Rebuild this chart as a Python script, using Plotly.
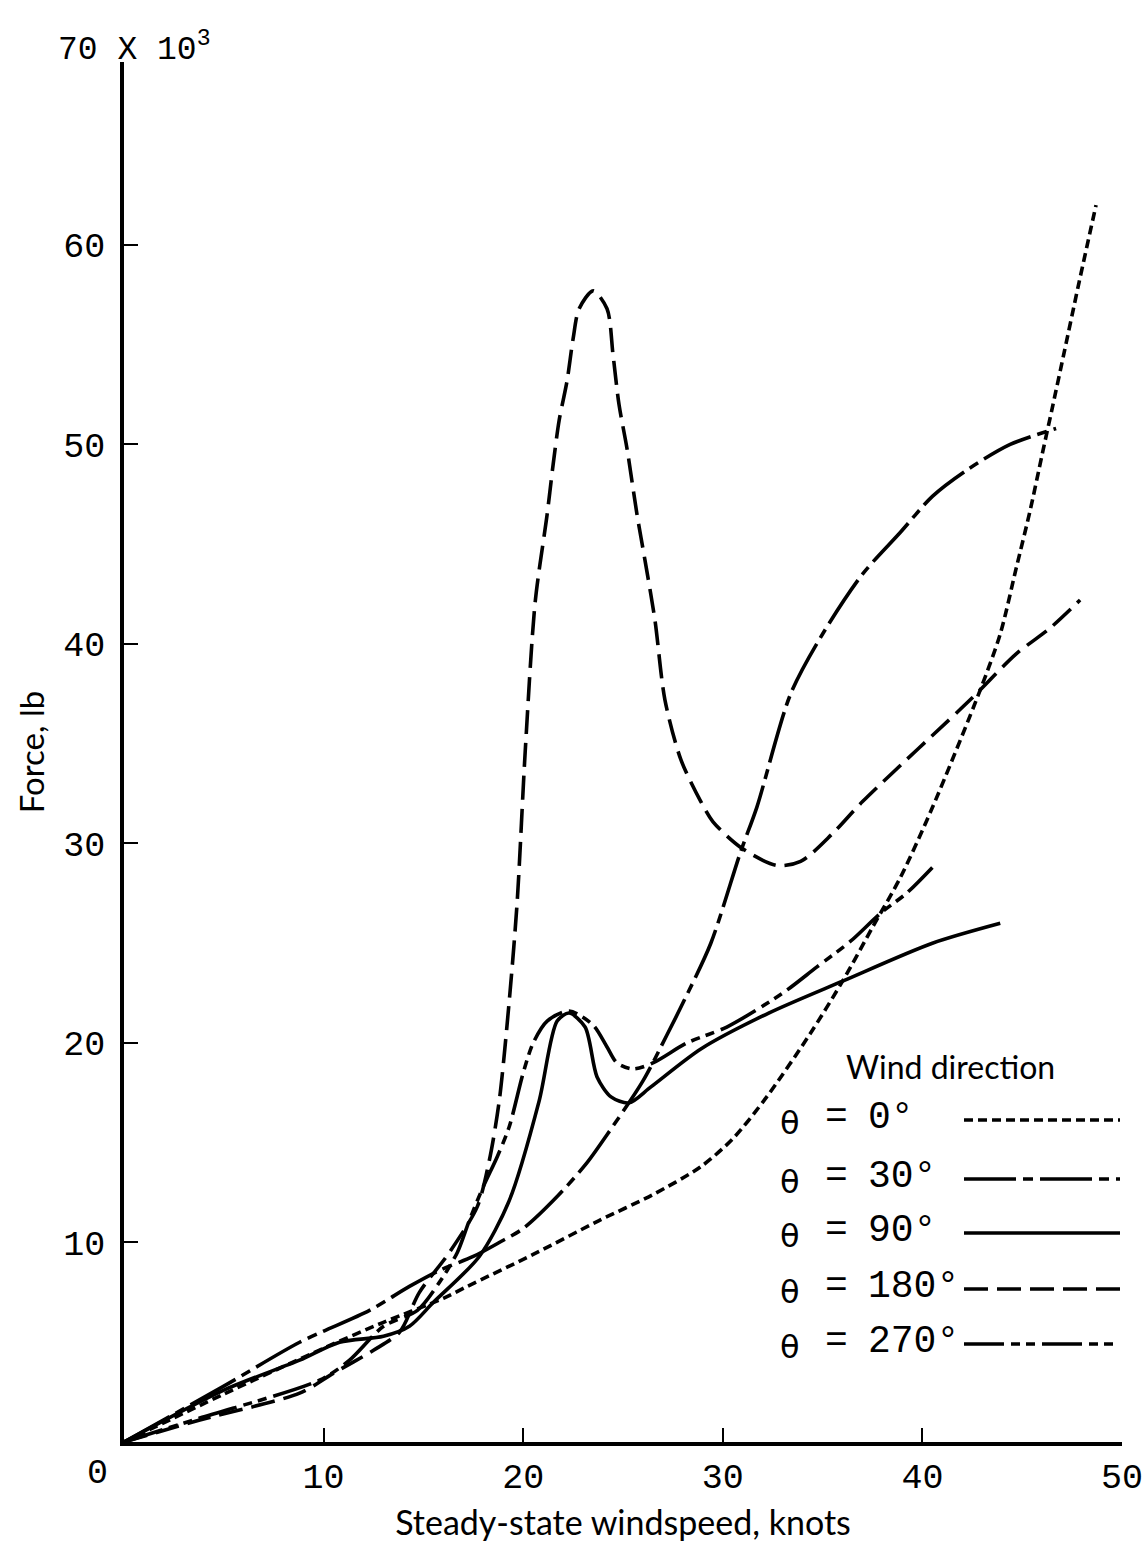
import plotly.graph_objects as go

# Wind force on the vehicle vs steady-state windspeed, for five wind directions
# (windspeed in knots, force in thousands of lb)
theta0_x = [0, 5, 10, 13, 16, 17.2, 20.5, 23.8, 26.5, 28.9, 30.5, 32.2, 34.4, 36.0,
            37.5, 38.9, 40.5, 42.9, 43.9, 44.7, 45.4, 46.0, 46.5, 47.1, 47.8, 48.7]
theta0_y = [0, 2.4, 4.7, 6.0, 7.2, 7.8, 9.4, 11.1, 12.4, 13.8, 15.2, 17.3, 20.5, 23.1,
            25.8, 28.3, 31.8, 37.7, 40.5, 43.8, 46.7, 49.5, 51.8, 54.6, 57.9, 62.0]

theta30_x = [0, 5, 8.8, 12.3, 14.3, 15.8, 17.5, 18.8, 20.0, 21.7, 23.2, 24.2, 26.0,
             27.2, 28.0, 29.4, 30.9, 31.7, 33.4, 35.0, 37.0, 38.9, 40.5, 42.2, 44.4, 46.7]
theta30_y = [0, 2.8, 5.0, 6.6, 7.8, 8.6, 9.3, 10.0, 10.7, 12.3, 14.0, 15.4, 18.1,
             20.4, 22.0, 25.0, 29.6, 31.8, 37.5, 40.5, 43.5, 45.6, 47.4, 48.7, 50.0, 50.8]

theta90_x = [0, 5, 8.8, 10.8, 13.0, 14.3, 15.5, 17.8, 19.3, 20.8, 21.7, 22.3, 23.1,
             23.7, 24.4, 25.3, 26.4, 28.9, 32.3, 36.0, 40.5, 43.9]
theta90_y = [0, 2.6, 4.1, 5.0, 5.3, 5.8, 7.0, 9.3, 12.1, 17.1, 21.1, 21.5, 20.8,
             18.3, 17.3, 17.0, 17.8, 19.7, 21.5, 23.1, 25.0, 26.0]

theta180_x = [0, 3.8, 8.8, 10.5, 12.5, 13.8, 14.8, 16.3, 17.7, 18.3, 18.8, 19.3, 19.7,
              20.1, 20.6, 21.2, 21.5, 21.8, 22.2, 22.5, 22.8, 23.5, 24.2, 24.5, 24.8,
              25.2, 25.7, 26.1, 26.6, 27.1, 27.9, 28.9, 29.5, 30.9, 32.7, 33.9, 35.5,
              37.0, 42.5, 44.7, 46.4, 47.9]
theta180_y = [0, 1.1, 2.45, 3.45, 4.6, 5.5, 7.5, 9.5, 11.8, 14.1, 17.1, 22.1, 27.1,
              34.6, 42.1, 46.5, 49.0, 51.2, 53.2, 55.3, 56.8, 57.7, 56.8, 54.5, 52.0,
              49.8, 46.5, 44.2, 41.2, 37.2, 34.2, 32.1, 31.1, 29.8, 28.9, 29.1, 30.5,
              32.1, 37.3, 39.5, 40.8, 42.2]

theta270_x = [0, 3.8, 9.8, 11.3, 13.0, 14.7, 15.8, 16.7, 17.3, 18.0, 18.7, 19.3, 20.0,
              20.5, 21.2, 22.3, 23.5, 24.2, 24.7, 25.5, 26.5, 28.2, 30.2, 33.0, 34.7,
              36.4, 37.9, 39.2, 40.5]
theta270_y = [0, 1.2, 3.1, 4.1, 5.8, 6.6, 8.0, 9.5, 11.1, 12.8, 14.3, 15.8, 18.5,
              20.0, 21.1, 21.6, 20.9, 19.8, 19.0, 18.7, 19.0, 20.0, 20.8, 22.5, 23.8,
              25.1, 26.5, 27.5, 28.8]

x_ticks = [10, 20, 30, 40, 50]
y_ticks = [10, 20, 30, 40, 50, 60]

series_labels = ["0°", "30°", "90°", "180°", "270°"]
series_dash = ["9px,5px", "52px,7px,10px,7px", "solid", "24px,9px",
               "40px,7px,9px,6px,9px,7px"]

series = [(theta0_x, theta0_y), (theta30_x, theta30_y), (theta90_x, theta90_y),
          (theta180_x, theta180_y), (theta270_x, theta270_y)]

W, H = 1146, 1549
L, R, T, B = 124, 1122, 62, 1442  # plot-area pixel edges
Y_TOP = 69.17

def px(xp):
    return (xp - L) / (R - L)

def py(yp):
    return (B - yp) / (B - T)

MONO = "Liberation Mono"
SANS = "Lato"

fig = go.Figure()
for (xs, ys), lab, dash in zip(series, series_labels, series_dash):
    fig.add_trace(go.Scatter(
        x=xs, y=ys, mode="lines", name=lab, showlegend=False,
        line=dict(color="black", width=3.6, dash=dash, shape="spline", smoothing=0.8),
    ))

annotations = []
shapes = []

# Origin label and the 70 x 10^3 scale label at the top of the force axis
annotations.append(dict(x=px(97), y=py(1474), xref="paper", yref="paper",
                        text="0", showarrow=False, xanchor="center", yanchor="middle",
                        font=dict(family=MONO, size=35, color="black")))
annotations.append(dict(x=px(56), y=py(48), xref="paper", yref="paper",
                        text="70 X 10<sup>3</sup>", showarrow=False,
                        xanchor="left", yanchor="middle",
                        font=dict(family=MONO, size=33, color="black")))

# Legend block
annotations.append(dict(x=px(950), y=py(1066), xref="paper", yref="paper",
                        text="Wind direction", showarrow=False,
                        xanchor="center", yanchor="middle",
                        font=dict(family=SANS, size=32, color="black")))
row_y = [1120, 1179, 1233, 1289, 1344]
for yy, lab, dash in zip(row_y, series_labels, series_dash):
    annotations.append(dict(x=px(790), y=py(yy + 3), xref="paper", yref="paper",
                            text="θ", showarrow=False, xanchor="center", yanchor="middle",
                            font=dict(family="DejaVu Sans", size=32, color="black")))
    annotations.append(dict(x=px(836), y=py(yy - 3), xref="paper", yref="paper",
                            text="=", showarrow=False, xanchor="center", yanchor="middle",
                            font=dict(family=MONO, size=38, color="black")))
    annotations.append(dict(x=px(866), y=py(yy - 3), xref="paper", yref="paper",
                            text=lab, showarrow=False, xanchor="left", yanchor="middle",
                            font=dict(family=MONO, size=38, color="black")))
    shapes.append(dict(type="line", xref="paper", yref="paper",
                       x0=px(964), x1=px(1120), y0=py(yy), y1=py(yy),
                       line=dict(color="black", width=3.6, dash=dash)))

fig.update_layout(
    width=W, height=H, autosize=False,
    margin=dict(l=L, r=W - R, t=T, b=H - B, autoexpand=False),
    paper_bgcolor="white", plot_bgcolor="white",
    annotations=annotations, shapes=shapes,
    xaxis=dict(
        range=[0, 50], tickvals=x_ticks, ticktext=[str(v) for v in x_ticks],
        automargin=False,
        ticks="inside", ticklen=14, tickwidth=2, tickcolor="black",
        showline=True, linecolor="black", linewidth=3.5, showgrid=False, zeroline=False,
        tickfont=dict(family=MONO, size=35, color="black"),
        title=dict(text="Steady-state windspeed, knots",
                   font=dict(family=SANS, size=34, color="black"), standoff=14),
    ),
    yaxis=dict(
        range=[0, Y_TOP], tickvals=y_ticks, ticktext=[str(v) for v in y_ticks],
        automargin=False,
        ticks="inside", ticklen=14, tickwidth=2, tickcolor="black",
        showline=True, linecolor="black", linewidth=3.5, showgrid=False, zeroline=False,
        tickfont=dict(family=MONO, size=35, color="black"),
        ticklabelstandoff=8,
        title=dict(text="Force, lb", font=dict(family=SANS, size=33, color="black"),
                   standoff=10),
    ),
)

fig.write_html("out.html")
